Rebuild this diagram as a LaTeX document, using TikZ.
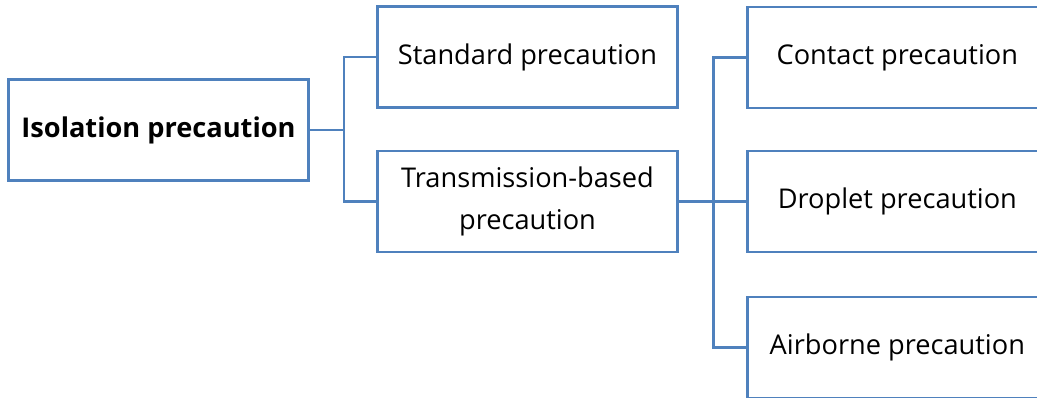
\documentclass[tikz,border=0pt]{standalone}
\usepackage{fontspec}
\setmainfont{Open Sans}
\usetikzlibrary{positioning}
\definecolor{boxblue}{RGB}{79,129,189}
\tikzset{box/.style={draw=boxblue,line width=2pt,minimum width=225pt,minimum height=75.75pt,inner sep=0pt,align=center,overlay,font=\fontsize{20.4}{32}\selectfont},
leaf/.style={box,align=none,anchor=west,minimum width=262pt},
link/.style={draw=boxblue,line width=2pt,overlay}}
\begin{document}
\begin{tikzpicture}[x=0.75pt,y=-0.75pt]
\useasboundingbox (0,0) rectangle (1037,397);
\node[box,font=\fontsize{20.4}{32}\selectfont\bfseries](iso) at (158.5,130){Isolation precaution};
\node[box](std) at (527.5,57){Standard precaution};
\node[box](trn) at (527.5,201.5){Transmission-based\\precaution};
\node[leaf](con) at (746,57.5){Contact precaution\kern37pt};
\node[leaf](drp) at (746,201.5){Droplet precaution\kern37pt};
\node[leaf](air) at (746,347.5){Airborne precaution\kern37pt};
\draw[link](iso.east)--++(34,0)|-(std.west);
\draw[link](iso.east)--++(34,0)|-(trn.west);
\draw[link](trn.east)--++(34.5,0)|-(con.west);
\draw[link](trn.east)--(drp.west);
\draw[link](trn.east)--++(34.5,0)|-(air.west);
\end{tikzpicture}
\end{document}
